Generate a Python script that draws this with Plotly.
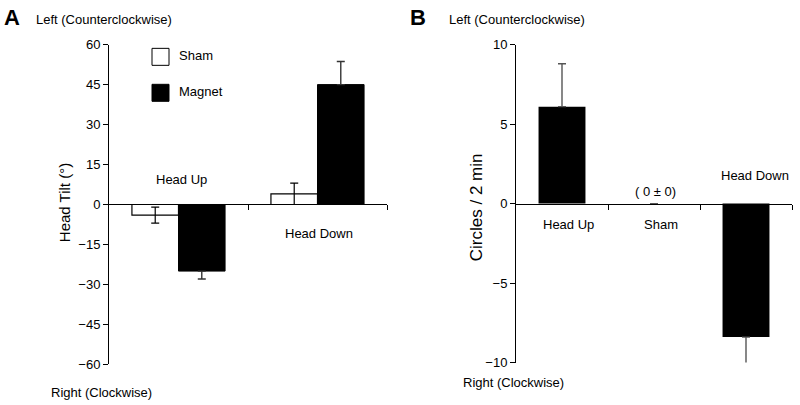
import plotly.graph_objects as go

# ---- Data ----
tilt_categories = ["Head Up", "Head Down"]
tilt_sham = [-4, 4]
tilt_sham_err = [3, 4]
tilt_magnet = [-25, 45]
tilt_magnet_err = [3, 8.7]
tilt_ticks = [-60, -45, -30, -15, 0, 15, 30, 45, 60]

circ_categories = ["Head Up", "Sham", "Head Down"]
circ_values = [6.1, 0, -8.4]
circ_err = [2.7, 0, 2.5]
circ_ticks = [-10, -5, 0, 5, 10]

W, H = 800, 405
FONT = "Liberation Sans, Arial, Helvetica, sans-serif"
Y0, YS = 6.6, 0.964   # observed page->screen vertical mapping compensation

def px(x):
    return x / W

def py(y):
    return 1 - ((y - Y0) / YS) / H

def outward(vals, errs):
    plus = [e if v >= 0 else 0 for v, e in zip(vals, errs)]
    minus = [e if v < 0 else 0 for v, e in zip(vals, errs)]
    return plus, minus

fig = go.Figure()

xa = list(range(len(tilt_categories)))
fig.add_trace(go.Bar(
    x=xa, y=tilt_sham, width=0.335, offset=-0.335,
    marker=dict(color="white", line=dict(color="black", width=1.2)),
    error_y=dict(type="data", array=tilt_sham_err, color="black", thickness=1.2, width=4),
    xaxis="x", yaxis="y", showlegend=False, name="Sham"))
mp, mm = outward(tilt_magnet, tilt_magnet_err)
fig.add_trace(go.Bar(
    x=xa, y=tilt_magnet, width=0.335, offset=0,
    marker=dict(color="black", line=dict(color="black", width=1)),
    error_y=dict(type="data", symmetric=False, array=mp, arrayminus=mm,
                 color="#333333", thickness=1.4, width=4),
    xaxis="x", yaxis="y", showlegend=False, name="Magnet"))

xb = list(range(len(circ_categories)))
cp, cm = outward(circ_values, circ_err)
fig.add_trace(go.Bar(
    x=xb, y=circ_values, width=0.51,
    marker=dict(color="black", line=dict(color="black", width=0)),
    error_y=dict(type="data", symmetric=False, array=cp, arrayminus=cm,
                 color="#555555", thickness=1.4, width=4),
    xaxis="x2", yaxis="y2", showlegend=False, name="Magnet"))

yA = [py(364.3), py(44.3)]
yB = [py(362.5), py(44.3)]

axis_common = dict(showgrid=False, zeroline=False, linecolor="black", linewidth=1,
                   tickcolor="black", ticklen=5, tickwidth=1, ticks="outside",
                   tickfont=dict(family=FONT, size=13, color="black"))

fig.update_layout(
    width=W, height=H,
    autosize=False,
    margin=dict(l=0, r=0, t=0, b=0, pad=0),
    paper_bgcolor="white", plot_bgcolor="white",
    barmode="overlay",
    font=dict(family=FONT, size=13, color="black"),
    xaxis=dict(domain=[px(109), px(387)], range=[-0.5, len(tilt_categories) - 0.5],
               anchor="free", position=(yA[0] + yA[1]) / 2,
               tickvals=[i + 0.5 for i in xa], ticktext=["" for _ in xa],
               showline=True, **axis_common),
    yaxis=dict(domain=yA, range=[-60, 60], tickvals=tilt_ticks,
               anchor="x", showline=True, **axis_common),
    xaxis2=dict(domain=[px(516), px(792)], range=[-0.5, len(circ_categories) - 0.5],
                anchor="free", position=(yB[0] + yB[1]) / 2,
                tickvals=[i + 0.5 for i in xb], ticktext=["" for _ in xb],
                showline=True, **axis_common),
    yaxis2=dict(domain=yB, range=[-10, 10], tickvals=circ_ticks,
                anchor="x2", showline=True, **axis_common),
)

def txt(x, y, s, size=13, xanchor="left", bold=False, angle=0):
    fig.add_annotation(x=px(x), y=py(y), xref="paper", yref="paper", text=(f"<b>{s}</b>" if bold else s),
                       showarrow=False, xanchor=xanchor, yanchor="middle", textangle=angle,
                       font=dict(family=FONT, size=size, color="black"))

# Panel A texts
txt(2, 17.5, "A", size=22, bold=True)
txt(34, 19, "Left (Counterclockwise)")
txt(49, 393, "Right (Clockwise)")
txt(64, 203, "Head Tilt (°)", size=15, xanchor="center", angle=-90)
txt(181, 179, "Head Up", xanchor="center")
txt(319, 233, "Head Down", xanchor="center")
txt(177, 55, "Sham")
txt(177, 91, "Magnet")
fig.add_shape(type="rect", xref="paper", yref="paper", x0=px(152), x1=px(169), y0=py(65), y1=py(48),
              line=dict(color="black", width=1), fillcolor="white")
fig.add_shape(type="rect", xref="paper", yref="paper", x0=px(152), x1=px(169), y0=py(101), y1=py(84),
              line=dict(color="black", width=1), fillcolor="black")

# Panel B texts
txt(408, 17.5, "B", size=22, bold=True)
txt(447, 19, "Left (Counterclockwise)")
txt(461, 383, "Right (Clockwise)")
txt(476, 207, "Circles / 2 min", size=17, xanchor="center", angle=-90)
txt(568, 224, "Head Up", xanchor="center")
txt(661, 224, "Sham", xanchor="center")
txt(655, 191, "( 0 ± 0)", xanchor="center")
txt(755, 175, "Head Down", xanchor="center")

fig.write_html("out.html", config={"displayModeBar": False},
               post_script="document.body.style.margin='0';document.body.style.padding='0';")
